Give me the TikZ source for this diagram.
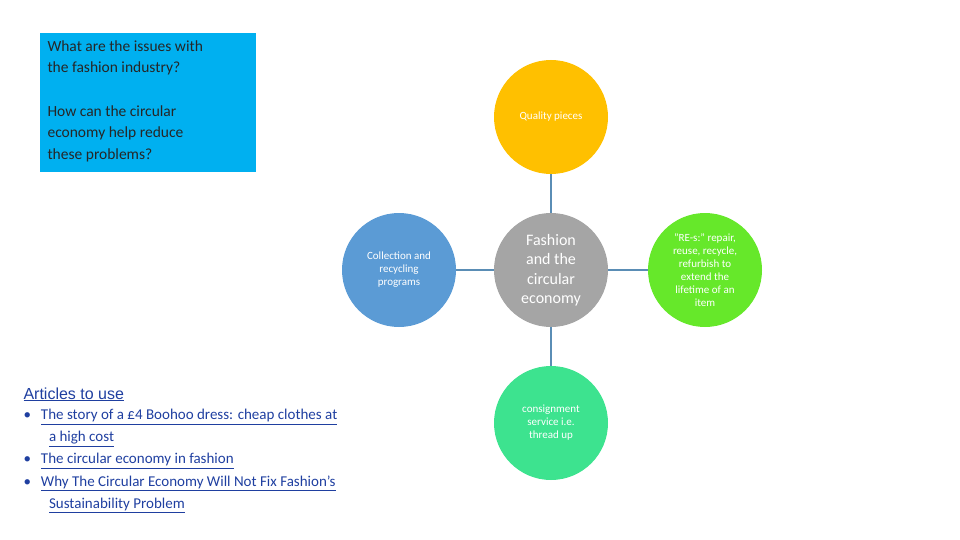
\documentclass[tikz,border=0pt]{standalone}
\usepackage{fontspec}
\setmainfont{Carlito}
\newfontfamily\arialf{Liberation Sans}
\newcommand{\myul}[1]{\underline{#1}}
\definecolor{boxblue}{HTML}{00B0F0}
\definecolor{cyel}{HTML}{FFC000}
\definecolor{cblue}{HTML}{5B9BD5}
\definecolor{cgray}{HTML}{A5A5A5}
\definecolor{cgreen}{HTML}{66E82A}
\definecolor{cmint}{HTML}{3DE38F}
\definecolor{lnk}{HTML}{1F3FA0}
\definecolor{conn}{HTML}{5A8DB5}
\begin{document}
\begin{tikzpicture}[x=1pt,y=-1pt,
  circ/.style={circle,minimum size=114pt,inner sep=0pt,align=center,text=white},
  lk/.style={text=lnk,font=\fontsize{15}{22}\selectfont,anchor=north west,align=left}]
\useasboundingbox (0,0) rectangle (960,540);
\fill[boxblue] (40,33) rectangle (256,172);
\node[anchor=north west,align=left,font=\fontsize{15.5}{21.5}\selectfont,text=black!85] (q1) at (44,37) {What are the issues with\\the fashion industry?};
\node[anchor=north west,align=left,font=\fontsize{15.5}{21.5}\selectfont,text=black!85] (q2) at (44,102) {How can the circular\\economy help reduce\\these problems?};
\node[circ,fill=cgray,font=\fontsize{16}{19.5}\selectfont] (c) at (551,270) {Fashion\\and the\\circular\\economy};
\node[circ,fill=cyel,font=\fontsize{11}{13}\selectfont] (t) at (551,117) {Quality pieces};
\node[circ,fill=cblue,font=\fontsize{11}{13}\selectfont] (l) at (399,270) {Collection and\\recycling\\programs};
\node[circ,fill=cgreen,font=\fontsize{11}{13}\selectfont] (r) at (705,270) {"RE-s:" repair,\\reuse, recycle,\\refurbish to\\extend the\\lifetime of an\\item};
\node[circ,fill=cmint,font=\fontsize{11}{13}\selectfont] (b) at (551,423) {consignment\\service i.e.\\thread up};
\draw[conn,line width=2] (c) -- (t);
\draw[conn,line width=2] (c) -- (b);
\draw[conn,line width=2] (c) -- (l);
\draw[conn,line width=2] (c) -- (r);
\node[anchor=north west,text=lnk,font=\arialf\fontsize{16}{19}\selectfont] (at) at (20,384) {\myul{Articles to use}};
\node[lk] (a1) at (20,406) {\textbullet\hspace{10pt}\myul{The story of a £4 Boohoo dress: cheap clothes at}\\\hspace{25.5pt}\myul{a high cost}};
\node[lk] (a2) at (20,450) {\textbullet\hspace{10pt}\myul{The circular economy in fashion}};
\node[lk] (a3) at (20,472) {\textbullet\hspace{10pt}\myul{Why The Circular Economy Will Not Fix Fashion's}\\\hspace{25.5pt}\myul{Sustainability Problem}};
\end{tikzpicture}
\end{document}
